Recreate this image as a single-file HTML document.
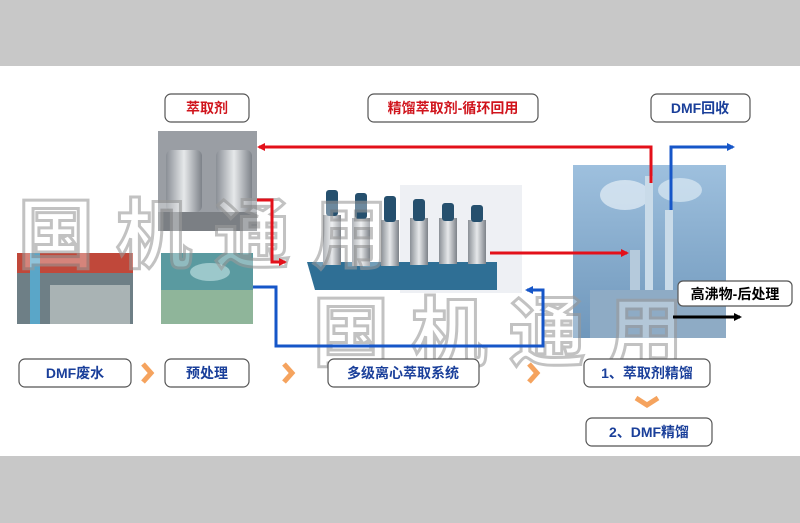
<!DOCTYPE html>
<html><head><meta charset="utf-8"><style>
html,body{margin:0;padding:0;width:800px;height:523px;overflow:hidden;background:#fff}
svg{display:block}
text{font-family:"Liberation Sans","Noto Sans CJK SC",sans-serif;font-weight:bold}
</style></head><body>
<svg width="800" height="523" viewBox="0 0 800 523" xmlns="http://www.w3.org/2000/svg">
<defs>
<marker id="ar" markerWidth="8" markerHeight="8" refX="6" refY="4" orient="auto" markerUnits="userSpaceOnUse"><path d="M0,0 L8,4 L0,8 Z" fill="#e3101a"/></marker>
<marker id="ab" markerWidth="8" markerHeight="8" refX="6" refY="4" orient="auto" markerUnits="userSpaceOnUse"><path d="M0,0 L8,4 L0,8 Z" fill="#1656c8"/></marker>
<marker id="ak" markerWidth="8" markerHeight="8" refX="6" refY="4" orient="auto" markerUnits="userSpaceOnUse"><path d="M0,0 L8,4 L0,8 Z" fill="#000"/></marker>
<linearGradient id="sky" x1="0" y1="0" x2="0" y2="1"><stop offset="0" stop-color="#9ec0de"/><stop offset="1" stop-color="#6f97bb"/></linearGradient>
<linearGradient id="cyl" x1="0" y1="0" x2="1" y2="0"><stop offset="0" stop-color="#8a8f96"/><stop offset=".5" stop-color="#e6e8ea"/><stop offset="1" stop-color="#7d8289"/></linearGradient>
</defs>
<rect x="0" y="0" width="800" height="66" fill="#c8c8c8"/>
<rect x="0" y="456" width="800" height="67" fill="#c8c8c8"/>

<rect x="158" y="131" width="99" height="100" fill="#9a9ea4"/>
<rect x="166" y="150" width="36" height="62" rx="6" fill="url(#cyl)"/>
<rect x="216" y="150" width="36" height="62" rx="6" fill="url(#cyl)"/>
<rect x="158" y="212" width="99" height="19" fill="#7b7f84"/>

<rect x="17" y="253" width="116" height="71" fill="#6e7f86"/>
<rect x="17" y="253" width="116" height="20" fill="#c0483a"/>
<rect x="30" y="253" width="10" height="71" fill="#5aa6c8"/>
<rect x="50" y="285" width="80" height="39" fill="#a9b3b4"/>

<rect x="161" y="253" width="92" height="71" fill="#5a9aa0"/>
<rect x="161" y="290" width="92" height="34" fill="#8fb59a"/>
<ellipse cx="210" cy="272" rx="20" ry="9" fill="#9cc8cb"/>

<rect x="400" y="185" width="122" height="108" fill="#eef0f4"/>
<polygon points="307,262 497,262 497,290 315,290" fill="#2f6f95"/>
<g fill="url(#cyl)">
<rect x="323" y="215" width="18" height="50"/><rect x="352" y="218" width="18" height="48"/><rect x="381" y="220" width="18" height="46"/>
<rect x="410" y="218" width="18" height="47"/><rect x="439" y="218" width="18" height="46"/><rect x="468" y="220" width="18" height="44"/>
</g>
<g fill="#26506e">
<rect x="326" y="190" width="12" height="26" rx="3"/><rect x="355" y="193" width="12" height="26" rx="3"/><rect x="384" y="196" width="12" height="26" rx="3"/>
<rect x="413" y="199" width="12" height="22" rx="3"/><rect x="442" y="203" width="12" height="18" rx="3"/><rect x="471" y="205" width="12" height="17" rx="3"/>
</g>

<rect x="573" y="165" width="153" height="173" fill="url(#sky)"/>
<ellipse cx="625" cy="195" rx="25" ry="15" fill="#dce9f3" opacity=".8"/>
<ellipse cx="680" cy="190" rx="22" ry="12" fill="#dce9f3" opacity=".7"/>
<rect x="645" y="176" width="8" height="130" fill="#c9dbe9"/>
<rect x="665" y="210" width="8" height="96" fill="#c9dbe9"/>
<rect x="630" y="250" width="10" height="56" fill="#b5cadc"/>
<rect x="590" y="290" width="136" height="48" fill="#8eabc5"/>

<g stroke="#9a9a9a" stroke-width="3" opacity=".6" fill="#ffffff" fill-opacity=".55" font-size="76">
<text x="18" y="262" letter-spacing="22">国机通用</text>
<text x="313" y="360" letter-spacing="22">国机通用</text>
</g>

<g fill="none" stroke-width="3">
<path d="M651,183 L651,147 L259,147" stroke="#e3101a" marker-end="url(#ar)"/>
<path d="M257,200 L272,200 L272,262 L285,262" stroke="#e3101a" marker-end="url(#ar)"/>
<path d="M490,253 L627,253" stroke="#e3101a" marker-end="url(#ar)"/>
<path d="M253,287 L276,287 L276,346 L543,346 L543,290 L527,290" stroke="#1656c8" marker-end="url(#ab)"/>
<path d="M671,210 L671,147 L733,147" stroke="#1656c8" marker-end="url(#ab)"/>
<path d="M673,317 L740,317" stroke="#000" marker-end="url(#ak)"/>
</g>

<g fill="#fff" stroke="#555" stroke-width="1.2">
<rect x="165" y="94" width="84" height="28" rx="6"/>
<rect x="368" y="94" width="170" height="28" rx="6"/>
<rect x="651" y="94" width="99" height="28" rx="6"/>
<rect x="678" y="281" width="114" height="25" rx="5"/>
<rect x="19" y="359" width="112" height="28" rx="6"/>
<rect x="165" y="359" width="84" height="28" rx="6"/>
<rect x="328" y="359" width="151" height="28" rx="6"/>
<rect x="584" y="359" width="126" height="28" rx="6"/>
<rect x="586" y="418" width="126" height="28" rx="6"/>
</g>
<g font-size="14" text-anchor="middle">
<text x="207" y="113" fill="#d0141c">萃取剂</text>
<text x="453" y="113" fill="#d0141c">精馏萃取剂-循环回用</text>
<text x="700" y="113" fill="#1a3f9a">DMF回收</text>
<text x="735" y="299" fill="#000">高沸物-后处理</text>
<text x="75" y="378" fill="#1a3f9a">DMF废水</text>
<text x="207" y="378" fill="#1a3f9a">预处理</text>
<text x="403" y="378" fill="#1a3f9a">多级离心萃取系统</text>
<text x="647" y="378" fill="#1a3f9a">1、萃取剂精馏</text>
<text x="649" y="437" fill="#1a3f9a">2、DMF精馏</text>
</g>
<g fill="none" stroke="#f5a35e" stroke-width="5">
<path d="M143,364 L151,373 L143,382"/>
<path d="M284,364 L292,373 L284,382"/>
<path d="M529,364 L537,373 L529,382"/>
<path d="M636,398 L647,405 L658,398"/>
</g>
</svg>
</body></html>
